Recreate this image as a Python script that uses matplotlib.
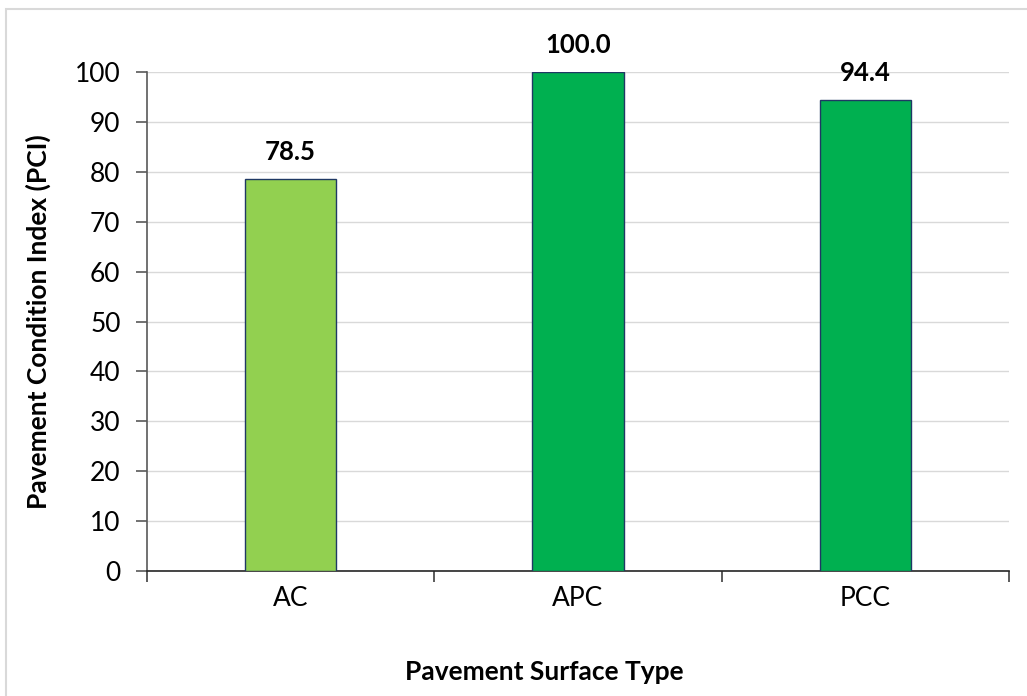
import matplotlib
matplotlib.use("Agg")
import matplotlib.pyplot as plt
from matplotlib.patches import Rectangle
from matplotlib.ticker import FixedLocator, MultipleLocator

plt.rcParams["font.family"] = ["Lato", "DejaVu Sans"]

# Data
surface_types = ["AC", "APC", "PCC"]
pci_values = [78.5, 100.0, 94.4]
bar_colors = ["#92D050", "#00B050", "#00B050"]

FS = 19

fig = plt.figure(figsize=(10.27, 6.96), dpi=100)

# light chart-area border
fig.patches.append(Rectangle((6 / 1027, -0.05), 1.1, 1 - 9 / 696 + 0.05,
                             transform=fig.transFigure, fill=False,
                             edgecolor="#D9D9D9", linewidth=1.5))

ax = fig.add_axes([147 / 1027, 1 - 571 / 696, (1009 - 147) / 1027, (571 - 72) / 696])

x = range(len(surface_types))
bars = ax.bar(x, pci_values, width=0.317, color=bar_colors,
              edgecolor="#1F3864", linewidth=1.0, zorder=3)

for xi, v in zip(x, pci_values):
    ax.annotate(f"{v:.1f}", (xi, v), xytext=(0, 19.5), textcoords="offset points",
                ha="center", va="center", fontsize=FS - 0.5, fontweight="bold")

ax.set_xlim(-0.5, len(surface_types) - 0.5)
ax.set_ylim(0, 100)
ax.yaxis.set_major_locator(MultipleLocator(10))
ax.grid(axis="y", color="#D9D9D9", linewidth=1.0, zorder=0)

ax.set_xticks(list(x))
ax.set_xticklabels(surface_types)
ax.xaxis.set_minor_locator(FixedLocator([i - 0.5 for i in range(len(surface_types) + 1)]))
ax.tick_params(axis="x", which="major", length=0, pad=11, labelsize=FS)
ax.tick_params(axis="x", which="minor", length=8, width=1.2, color="#404040", direction="out")
ax.tick_params(axis="y", which="major", length=8, width=1.2, color="#595959",
               direction="out", labelsize=FS, pad=11)

for side in ("top", "right"):
    ax.spines[side].set_visible(False)
ax.spines["left"].set_color("#595959")
ax.spines["left"].set_linewidth(1.2)
ax.spines["bottom"].set_color("#262626")
ax.spines["bottom"].set_linewidth(1.2)

fig.text(544 / 1027, 1 - 672 / 696, "Pavement Surface Type", ha="center", va="center",
         fontsize=FS, fontweight="bold")
fig.text(38 / 1027, 1 - 322 / 696, "Pavement Condition Index (PCI)", ha="center", va="center",
         rotation=90, fontsize=FS, fontweight="bold")

fig.savefig("out.png", dpi=100, facecolor="white")
